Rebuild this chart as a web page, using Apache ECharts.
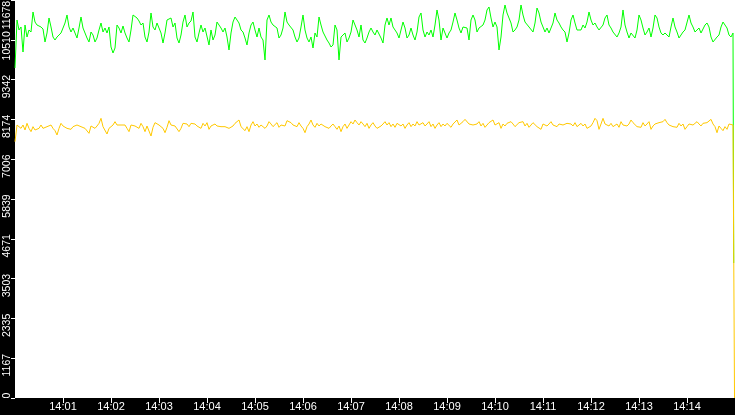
<!DOCTYPE html>
<html><head><meta charset="utf-8">
<script src="https://cdn.jsdelivr.net/npm/echarts@6/dist/echarts.min.js"></script>
<style>html,body{margin:0;padding:0;background:#000;}#c{width:735px;height:415px;}</style>
</head><body><div id="c"></div>
<script>
// time axis: seconds after 14:00:00
const startHour = 14;
const stepSeconds = 2.5;
const totalSeconds = 900;
const greenEndSecond = 898.4;
const yellowEndSecond = 899.4;
const yTickLabels = ['0','1167','2335','3503','4671','5839','7006','8174','9342','10510','11678'];

const greenValues = [
9683,11091,10798,10886,10152,10944,10592,10798,10739,11326,
11032,10944,10886,10886,10827,10446,10710,11150,10886,10592,
10504,10592,10651,10710,10710,11003,11238,10886,10739,10856,
10710,10563,10856,11179,10856,10710,10563,10446,10739,10651,
10446,10563,10798,11003,10739,10856,10710,10886,10299,10123,
10270,10944,10856,10710,10915,10710,10563,10446,10798,11238,
11238,11150,11062,10944,11003,10592,10446,10739,11297,10886,
10798,11003,10856,10710,10416,10710,11091,11091,11150,10886,
11003,10563,10416,10651,11032,11238,10886,11003,11062,11326,
10592,10446,10710,10944,10739,10856,10798,10358,10798,10504,
10651,11032,10944,10856,10739,10856,10592,10211,10710,11032,
11179,11150,11003,10798,10739,10563,10358,10710,10944,11032,
10798,10592,10856,10592,10504,9918,11091,11238,11032,10944,
10886,10856,10563,10651,10856,11326,11032,10944,10886,10798,
10592,10446,10563,10886,11238,10798,10563,10446,10592,10270,
10710,10592,11179,10944,10739,10710,10504,10416,10299,10358,
10944,10798,9918,10592,10651,10710,10446,10563,10739,11091,
10944,10798,10592,10944,10504,10416,10563,10739,10856,10739,
10651,10798,10856,10563,10416,10944,11150,10944,11150,10886,
10798,10710,10563,10798,11032,10856,10563,10651,10856,10651,
10504,10739,11179,11297,10798,10592,10739,10651,10798,10592,
10944,11385,11091,10504,10856,10710,10563,10710,10798,11032,
11297,11091,10856,10710,10886,10944,10856,10504,11091,11238,
11091,10739,10856,10798,10944,11091,11385,11473,11150,10886,
11032,10886,10211,10592,11238,11531,11297,11150,11003,10739,
10798,10886,11091,11531,11238,11032,11003,10886,10856,10739,
11003,11443,11297,11032,10886,10739,10856,10710,10856,11003,
11297,11091,11003,10886,10798,10739,10446,10710,11091,11238,
11003,10798,10856,10798,10944,10856,11032,11326,11091,10944,
11003,10886,10798,10798,10944,11150,11238,10944,10856,10739,
10710,10592,10710,10886,11385,10944,10739,10563,10710,10710,
10563,10798,11238,11091,10856,10651,10739,10856,10592,10856,
11238,11150,10886,10710,10651,10710,10739,10592,10886,11150,
10886,10739,10563,10592,10739,10798,10856,11238,11003,10886,
10739,10710,10856,10710,10739,10944,11003,10886,10592,10446,
10416,10592,10651,10886,11032,10944,10856,10651,10592,10710
];
const greenFinal = 3961;

const yellowValues = [
7521,8010,8010,7912,8010,7864,8059,7912,7815,7961,
7864,7883,7912,8010,7912,7912,7961,7981,8010,7912,
7844,7717,7912,8059,7981,8010,7912,7961,7883,7961,
8010,8010,8059,7961,8010,7912,7864,7766,7981,7961,
7912,7981,8059,8206,7961,7912,7746,7912,7961,8010,
8108,8010,8010,8010,7961,8010,7912,7815,8010,7961,
7981,8010,7912,8059,7961,7815,7981,7961,7687,7942,
8079,8108,8010,8059,7912,7785,7942,8137,8010,8059,
7981,7961,7815,7912,8059,8010,8040,7961,8059,8010,
8040,7981,7961,7912,8059,7981,8079,7883,7981,8010,
8040,7981,7942,7961,8010,7961,7981,7912,7883,7981,
8059,8108,8157,7961,7912,7844,7961,7815,8010,8108,
7981,8040,7942,8010,8059,7912,7981,8108,8040,7962,
8010,8079,7942,8010,8059,7981,8137,8176,8079,8010,
8040,7962,8079,7981,7912,7785,7962,8040,8157,8010,
7942,8059,7981,8040,8079,7962,8010,7912,7981,8040,
7962,7883,7981,7815,7962,8040,7912,8010,8108,8040,
8157,8079,8010,8108,8040,7962,8059,7912,8010,8079,
7981,7912,7864,7981,8040,8108,8010,8079,7962,8040,
7942,8059,8108,7981,8040,7912,8010,8079,7962,8040,
7981,8108,8010,8059,8079,7981,8040,8108,7962,8040,
7912,8010,8079,7962,8040,7981,8059,8010,7942,8040,
8079,8157,8010,7962,8108,8176,8137,8040,8079,8010,
7962,8040,8108,7981,8059,7942,8010,8079,8040,8157,
8010,7962,8079,7912,8040,7981,8059,8010,8108,8040,
7962,8010,8079,8040,8108,7981,8059,7942,8010,8079,
8040,7962,8010,7883,8040,8079,7981,8040,8108,8010,
8059,7962,8040,8079,8010,7981,8059,8108,8040,7981,
8079,7962,8010,8059,7981,8040,7912,7864,7981,8079,
8206,8137,7883,8040,8206,8040,8079,7981,8059,7962,
8010,8040,7942,8108,8010,8059,7981,8040,8157,8079,
8040,7962,8010,7942,8079,7981,8040,8108,7883,7981,
8040,8010,8079,8040,8108,8176,8079,8010,8040,7962,
8010,7942,8059,7981,8040,7883,7962,8040,8079,8010,
8059,8108,8040,7981,8059,8010,8079,8137,8176,8040,
7962,7785,7981,7912,7844,7962,7883,8040,8079,8010
];
const yellowFinal = 0;

function toPairs(values, finalValue, endSecond) {
  const pts = values.map((v, i) => [i * stepSeconds, v]);
  pts.push([endSecond, finalValue]);
  return pts;
}
function pad(n) { return (n < 10 ? '0' : '') + n; }

const chart = echarts.init(document.getElementById('c'), null, {renderer: 'canvas'});
chart.setOption({
  animation: false,
  backgroundColor: '#000',
  grid: {
    left: 15, right: 0, top: 0, bottom: 17,
    show: true, backgroundColor: '#fff', borderWidth: 0,
    containLabel: false, outerBoundsMode: 'none'
  },
  xAxis: {
    type: 'value', min: 0, max: totalSeconds, interval: 60,
    offset: 2,
    axisLine: {show: false},
    splitLine: {show: false},
    axisTick: {show: true, length: 5, lineStyle: {color: '#fff', width: 1}},
    axisLabel: {
      color: '#fff', fontFamily: 'Liberation Sans, Arial, sans-serif', fontSize: 11,
      margin: 1, showMinLabel: false, showMaxLabel: false,
      formatter: v => startHour + ':' + pad(Math.round(v / 60))
    }
  },
  yAxis: {
    type: 'value', min: 0, max: 11678, interval: 1167.8,
    axisLine: {show: false},
    splitLine: {show: false},
    axisTick: {show: true, length: 4, lineStyle: {color: '#fff', width: 1}},
    axisLabel: {
      rotate: 90, margin: 2, color: '#fff',
      fontFamily: 'Liberation Sans, Arial, sans-serif', fontSize: 10.5,
      formatter: (v, idx) => {
        const t = yTickLabels[idx];
        if (idx === 0) return '{z|' + t + '}';
        if (idx === yTickLabels.length - 1) return '{t|' + t + '}';
        if (idx === yTickLabels.length - 2) return '{s|' + t + '}';
        return '{n|' + t + '}';
      },
      rich: {
        n: {color: '#fff', fontFamily: 'Liberation Sans, Arial, sans-serif', fontSize: 10.5, padding: [0, 14, 0, 0]},
        s: {color: '#fff', fontFamily: 'Liberation Sans, Arial, sans-serif', fontSize: 10.5, padding: [0, 12, 0, 0]},
        t: {color: '#fff', fontFamily: 'Liberation Sans, Arial, sans-serif', fontSize: 10.5, padding: [0, 30, 0, 0]},
        z: {color: '#fff', fontFamily: 'Liberation Sans, Arial, sans-serif', fontSize: 10.5, padding: [0, 0, 0, 5]}
      }
    }
  },
  series: [
    {
      type: 'line', name: 'green', showSymbol: false, sampling: 'none',
      data: toPairs(greenValues, greenFinal, greenEndSecond),
      lineStyle: {color: '#00ff00', width: 1}, itemStyle: {color: '#00ff00'}
    },
    {
      type: 'line', name: 'yellow', showSymbol: false, sampling: 'none',
      data: toPairs(yellowValues, yellowFinal, yellowEndSecond),
      lineStyle: {color: '#ffc800', width: 1}, itemStyle: {color: '#ffc800'}
    }
  ]
});
</script>
</body></html>
